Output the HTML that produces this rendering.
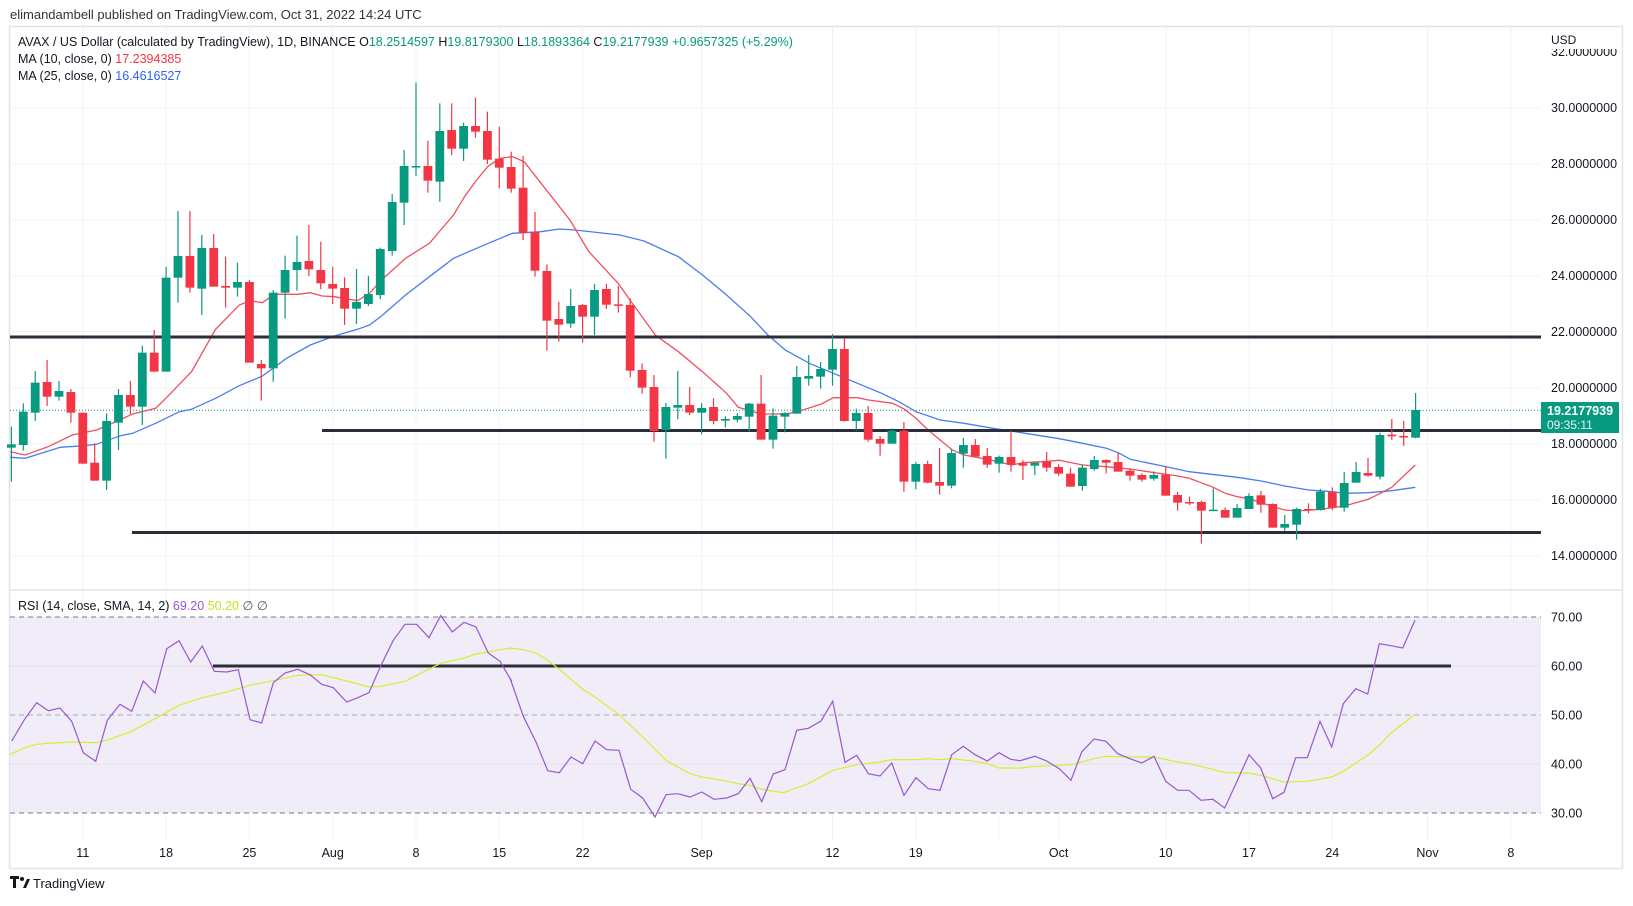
<!DOCTYPE html>
<html><head><meta charset="utf-8"><style>
html,body{margin:0;padding:0;background:#fff;}
body{width:1633px;height:901px;overflow:hidden;font-family:"Liberation Sans",sans-serif;}
svg text{font-family:"Liberation Sans",sans-serif;}
</style></head><body>
<svg id="c" width="1633" height="901" xmlns="http://www.w3.org/2000/svg">
<rect width="1633" height="901" fill="#fff"/>
<text x="10" y="19" font-size="13" fill="#333">elimandambell published on TradingView.com, Oct 31, 2022 14:24 UTC</text>
<rect x="9.5" y="26.5" width="1613" height="842" fill="none" stroke="#e0e3eb" stroke-width="1.5"/>
<g id="grid"></g>
<rect x="10" y="617" width="1531" height="196" fill="#f0edf8"/>
<g id="rsigrid"></g>
<g id="draw"></g>
<line x1="10" y1="590" x2="1622" y2="590" stroke="#e0e3eb" stroke-width="1.5"/>
<text x="18" y="46" font-size="12.5" fill="#131722">AVAX / US Dollar (calculated by TradingView), 1D, BINANCE  <tspan fill="#131722">O</tspan><tspan fill="#089981">18.2514597</tspan>  <tspan fill="#131722">H</tspan><tspan fill="#089981">19.8179300</tspan>  <tspan fill="#131722">L</tspan><tspan fill="#089981">18.1893364</tspan>  <tspan fill="#131722">C</tspan><tspan fill="#089981">19.2177939</tspan>  <tspan fill="#089981">+0.9657325 (+5.29%)</tspan></text>
<text x="18" y="63" font-size="12.5" fill="#131722">MA (10, close, 0) <tspan fill="#f23645">17.2394385</tspan></text>
<text x="18" y="80" font-size="12.5" fill="#131722">MA (25, close, 0) <tspan fill="#2962ff">16.4616527</tspan></text>
<text x="18" y="610" font-size="12.5" fill="#131722">RSI (14, close, SMA, 14, 2) <tspan fill="#9a55d3">69.20</tspan> <tspan fill="#c8e21a">50.20</tspan> <tspan fill="#555">∅ ∅</tspan></text>
<g id="axis"></g>
<rect x="1545" y="28" width="76" height="21" fill="#fff"/>
<text x="1551" y="44" font-size="12" fill="#131722">USD</text>
<rect x="1541" y="402" width="78" height="31" fill="#089981"/>
<text x="1547" y="415" font-size="12.5" font-weight="bold" fill="#fff">19.2177939</text>
<text x="1547" y="429" font-size="12" fill="#e6f5f1">09:35:11</text>
<g transform="translate(10,876)"><path d="M0 0h9v3h-3v9h-3v-9h-3z" fill="#131722"/><circle cx="12" cy="3" r="2" fill="#131722"/><path d="M13 12l4-9h3l-4 9z" fill="#131722"/></g>
<text x="33" y="888" font-size="13" fill="#131722">TradingView</text>
</svg>
<script>
var NS="http://www.w3.org/2000/svg";
function el(parent,tag,attrs,txt){var e=document.createElementNS(NS,tag);for(var k in attrs)e.setAttribute(k,attrs[k]);if(txt!==undefined)e.textContent=txt;document.getElementById(parent).appendChild(e);return e;}
function py(p){return 107.7+(30-p)*28;}
function dx(d){return 82.8+d*11.9;}
function ry(v){return 813-(v-30)*4.9;}
var days=[[0,"11"],[7,"18"],[14,"25"],[21,"Aug"],[28,"8"],[35,"15"],[42,"22"],[52,"Sep"],[63,"12"],[70,"19"],[77,""],[82,"Oct"],[91,"10"],[98,"17"],[105,"24"],[113,"Nov"],[120,"8"]];
days.forEach(function(a){var x=dx(a[0]);el("grid","line",{x1:x,y1:27,x2:x,y2:842,stroke:"#f0f3fa","stroke-width":1});if(a[1])el("axis","text",{x:x,y:857,"font-size":12.5,fill:"#131722","text-anchor":"middle"},a[1]);});
for(var p=14;p<=32;p+=2){var y=py(p);if(p<32)el("grid","line",{x1:10,y1:y,x2:1541,y2:y,stroke:"#f0f3fa","stroke-width":1});
 el("axis","text",{x:1551,y:y+4.5,"font-size":12.5,fill:"#131722"},p.toFixed(7));}
[60,40].forEach(function(v){el("rsigrid","line",{x1:10,y1:ry(v),x2:1541,y2:ry(v),stroke:"#e4e1ee","stroke-width":1});});
[70,50,30].forEach(function(v){el("rsigrid","line",{x1:10,y1:ry(v),x2:1541,y2:ry(v),stroke:v==50?"#a8a6b0":"#787b86","stroke-width":1,"stroke-dasharray":"5,4"});});
[[60,"60.00"],[70,"70.00"],[50,"50.00"],[40,"40.00"],[30,"30.00"]].forEach(function(a){el("axis","text",{x:1551,y:ry(a[0])+4.5,"font-size":12.5,fill:"#131722"},a[1]);});
var z4=[[-6,1,1153,1163,1100,1265],[-5,1,1055,1155,1030,1172],[-4,1,968,1058,933,1083],[-3,0,966,1010,900,1038],[-2,1,993,1010,963,1022],[-1,0,996,1058,987,1088],[0,0,1058,1211,1058,1211],[1,0,1208,1262,1150,1262],[2,1,1083,1262,1060,1290],[3,1,1005,1088,987,1170],[4,0,1005,1040,963,1062],[5,1,878,1040,857,1095],[6,0,878,935,810,935],[7,1,653,935,620,935],[8,1,588,653,453,728],[9,0,588,683,453,698],[10,1,564,686,525,765],[11,0,564,680,522,680],[12,0,678,683,590,743],[13,1,666,683,608,710],[14,0,666,908,660,908],[15,0,912,925,900,1022],[16,1,698,925,690,965],[17,1,630,698,587,776],[18,1,606,630,527,692],[19,0,603,628,495,648],[20,0,630,670,545,688],[21,0,672,686,620,732],[22,0,684,746,652,795],[23,1,726,746,627,792],[24,1,702,732,648,738],[25,1,567,705,563,718],[26,1,426,573,402,587],[27,1,318,428,270,495],[28,1,318,320,68,348],[29,0,318,362,242,398],[30,1,213,365,130,425],[31,0,210,266,130,285],[32,1,198,266,188,303],[33,0,198,215,113,233],[34,0,213,299,155,312],[35,0,296,323,200,385],[36,0,321,386,275,398],[37,0,383,519,288,540],[38,0,516,632,456,650]];
var z5=[[39,0,153,302,133,392],[40,0,297,314,245,365],[41,1,258,311,207,323],[42,0,255,290,252,368],[43,1,210,290,192,345],[44,0,207,254,192,267],[45,0,253,255,198,278],[46,0,255,452,235,472],[47,0,450,503,430,521],[48,0,501,633,465,665],[49,1,561,630,549,716],[50,1,555,563,453,598],[51,0,555,578,501,585],[52,1,564,578,549,643],[53,0,561,603,535,613],[54,1,597,602,589,622],[55,1,588,599,580,607],[56,1,551,590,549,635],[57,0,551,659,465,659],[58,1,587,659,565,686],[59,1,579,590,577,637],[60,1,471,581,438,581],[61,1,468,476,405,497],[62,1,447,470,426,506],[63,1,387,449,342,497],[64,0,387,603,354,605],[65,1,579,603,566,632],[66,0,579,659,558,665],[67,0,657,671,648,707],[68,1,632,671,625,671],[69,0,632,785,606,815],[70,1,732,785,726,808],[71,0,732,788,722,790],[72,0,786,797,684,824],[73,1,699,797,686,805],[74,1,675,701,654,743],[75,0,675,710,657,712],[76,0,708,734,684,743],[77,1,711,731,707,758]];
var z6=[[78,0,171,194,92,215],[79,0,190,197,180,240],[80,1,188,197,185,225],[81,0,185,203,156,215],[82,0,201,221,193,227],[83,0,221,260,203,260],[84,1,203,258,193,272],[85,1,180,207,168,212],[86,0,180,188,178,220],[87,0,186,215,158,215],[88,0,212,227,205,242],[89,0,225,239,220,245],[90,1,225,236,214,242],[91,0,224,287,198,287],[92,0,285,308,276,332],[93,0,306,308,290,315],[94,0,306,332,302,431],[95,1,329,332,265,333],[96,0,330,353,322,353],[97,1,324,353,312,353],[98,1,288,327,280,327],[99,0,286,314,273,338],[100,0,312,383,310,383],[101,1,372,383,345,394],[102,1,327,374,323,419],[103,0,327,330,310,340],[104,1,275,330,267,332],[105,0,276,323,262,331],[106,1,249,323,216,335],[107,1,216,248,186,248],[108,0,219,227,174,230],[109,1,105,230,98,238],[110,0,104,109,57,120],[111,0,108,112,63,138],[112,1,30,113,-21,115]];
var candles=[];
z4.forEach(function(c){candles.push([c[0],c[1],60+c[2]/3,60+c[3]/3,60+c[4]/3,60+c[5]/3]);});
z5.forEach(function(c){candles.push([c[0],c[1],220+c[2]/3,220+c[3]/3,220+c[4]/3,220+c[5]/3]);});
z6.forEach(function(c){candles.push([c[0],c[1],400+c[2]/3,400+c[3]/3,400+c[4]/3,400+c[5]/3]);});
function pts(arr,ox,sx,oy,sy){return arr.map(function(p){return (ox+p[0]/sx).toFixed(1)+","+(oy+p[1]/sy).toFixed(1);});}
el("draw","line",{x1:10,y1:410.3,x2:1541,y2:410.3,stroke:"#089981","stroke-width":1,"stroke-dasharray":"1,2"});
var red4=[[30,1175],[73,1185],[140,1160],[210,1125],[280,1110],[315,1095],[385,1062],[452,1045],[486,1010],[556,935],[626,808],[695,735],[727,722],[762,728],[797,703],[866,703],[901,698],[936,708],[971,710],[1038,722],[1073,700],[1108,660],[1178,595],[1247,550],[1317,465],[1349,410],[1384,360],[1418,318],[1453,295],[1488,290],[1522,305]];
var red5=[[145,0],[200,95],[285,190],[323,245],[393,345],[460,395],[530,455],[600,520],[634,562],[700,582],[771,582],[806,575],[875,552],[910,533],[980,533],[1012,540],[1082,550],[1117,568],[1150,595],[1185,630],[1255,690],[1290,705],[1357,718],[1427,735]];
var red6=[[70,188],[142,184],[178,181],[248,195],[319,200],[391,207],[463,218],[535,228],[568,235],[640,262],[676,280],[712,290],[748,296],[820,320],[854,330],[890,333],[961,328],[1033,318],[1105,298],[1141,280],[1175,262],[1246,195]];
var blue4=[[30,1192],[73,1195],[175,1162],[245,1157],[280,1153],[350,1127],[385,1120],[452,1090],[521,1055],[556,1048],[626,1015],[695,977],[762,948],[832,895],[901,855],[971,828],[1038,808],[1073,795],[1108,768],[1178,705],[1247,650],[1317,595],[1384,565],[1418,550],[1488,520],[1522,518]];
var blue5=[[60,35],[115,27],[160,30],[290,45],[360,63],[460,110],[530,165],[600,225],[670,290],[720,345],[770,390],[840,430],[910,460],[980,490],[1050,520],[1100,545],[1150,575],[1220,600],[1290,610],[1390,628]];
var blue6=[[0,88],[178,116],[248,130],[319,145],[355,158],[391,178],[499,200],[568,215],[712,232],[784,243],[854,258],[926,270],[997,275],[1033,280],[1105,278],[1175,272],[1246,262]];
var redP=pts(red4,0,2.904,60,3).concat(pts(red5,520,2.904,220,3),pts(red6,1000,3,400,3));
var blueP=pts(blue4,0,2.904,60,3).concat(pts(blue5,520,2.904,220,3),pts(blue6,1000,3,400,3));
el("draw","polyline",{points:blueP.join(" "),fill:"none",stroke:"#4a7cf0","stroke-width":1.3});
el("draw","polyline",{points:redP.join(" "),fill:"none",stroke:"#f0505e","stroke-width":1.3});
el("draw","line",{x1:10,y1:337,x2:1541,y2:337,stroke:"#2a2e39","stroke-width":3});
el("draw","line",{x1:322,y1:430.5,x2:1541,y2:430.5,stroke:"#2a2e39","stroke-width":3});
el("draw","line",{x1:132,y1:532.5,x2:1541,y2:532.5,stroke:"#2a2e39","stroke-width":3});
candles.forEach(function(c){var x=dx(c[0]);var col=c[1]?"#089981":"#f23645";
 el("draw","line",{x1:x,y1:c[4],x2:x,y2:c[5],stroke:col,"stroke-width":1.2});
 var h=Math.max(c[3]-c[2],1.5);el("draw","rect",{x:x-4.4,y:c[2],width:8.8,height:h,fill:col});});
var r7=[[35,477],[75,410],[110,362],[145,386],[180,378],[215,418],[250,512],[287,538],[322,415],[360,367],[395,388],[430,297],[465,333],[500,200],[537,176],[572,240],[607,192],[643,268],[680,270],[715,263],[750,413],[785,423],[820,302],[855,273],[893,262],[930,278],[965,307],[1000,317],[1040,360],[1073,347],[1107,332],[1143,250],[1180,175],[1215,127],[1250,127],[1287,167],[1322,101],[1357,150],[1392,121],[1428,135],[1465,213],[1500,238],[1535,298]];
var r8=[[0,288],[40,403],[78,480],[113,566],[148,572],[183,525],[218,545],[255,477],[290,503],[327,505],[362,622],[398,648],[435,705],[468,638],[503,635],[540,645],[575,630],[612,652],[650,648],[685,635],[720,589],[755,659],[790,576],[825,563],[860,445],[895,439],[933,417],[968,358],[1005,541],[1040,520],[1075,575],[1110,582],[1145,543],[1182,640],[1218,587],[1255,620],[1290,625],[1325,518],[1360,493],[1395,518],[1432,537],[1467,512],[1502,532]];
var r9=[[0,536],[45,523],[80,537],[118,560],[153,595],[185,510],[222,471],[258,478],[293,515],[330,530],[365,543],[402,523],[437,598],[473,625],[507,625],[543,655],[578,652],[614,678],[650,600],[687,518],[722,558],[758,650],[792,631],[827,527],[862,527],[900,418],[935,495],[970,365],[1007,320],[1043,336],[1078,185],[1113,191],[1148,198],[1185,115]];
var y7=[[30,517],[75,497],[110,487],[145,484],[215,480],[290,482],[320,475],[395,448],[465,410],[537,370],[607,347],[680,330],[750,310],[820,296],[893,280],[965,278],[1040,297],[1107,315],[1143,313],[1215,298],[1250,280],[1322,244],[1392,228],[1428,216],[1500,203],[1535,198]];
var y8=[[0,198],[40,203],[78,213],[113,235],[148,262],[218,322],[255,345],[327,398],[398,465],[468,535],[540,575],[575,585],[650,597],[685,605],[720,610],[755,622],[820,632],[895,605],[968,565],[1040,548],[1110,540],[1145,533],[1218,533],[1255,530],[1290,533],[1325,530],[1395,538],[1432,545],[1467,558],[1502,558]];
var y9=[[0,558],[45,553],[118,550],[153,548],[222,530],[258,523],[330,525],[402,525],[473,540],[507,545],[578,562],[614,572],[687,573],[722,580],[792,600],[862,598],[935,585],[970,568],[1043,520],[1078,490],[1113,453],[1185,397]];
el("draw","line",{x1:213,y1:666,x2:1451,y2:666,stroke:"#2a2e39","stroke-width":3});
el("draw","polyline",{points:pts(y7,0,3,582,3).concat(pts(y8,510,3,582,3),pts(y9,1020,3,582,3)).join(" "),fill:"none",stroke:"#d4ee2f","stroke-width":1.2});
el("draw","polyline",{points:pts(r7,0,3,582,3).concat(pts(r8,510,3,582,3),pts(r9,1020,3,582,3)).join(" "),fill:"none",stroke:"#9a55d3","stroke-width":1.2});
</script>
</body></html>
